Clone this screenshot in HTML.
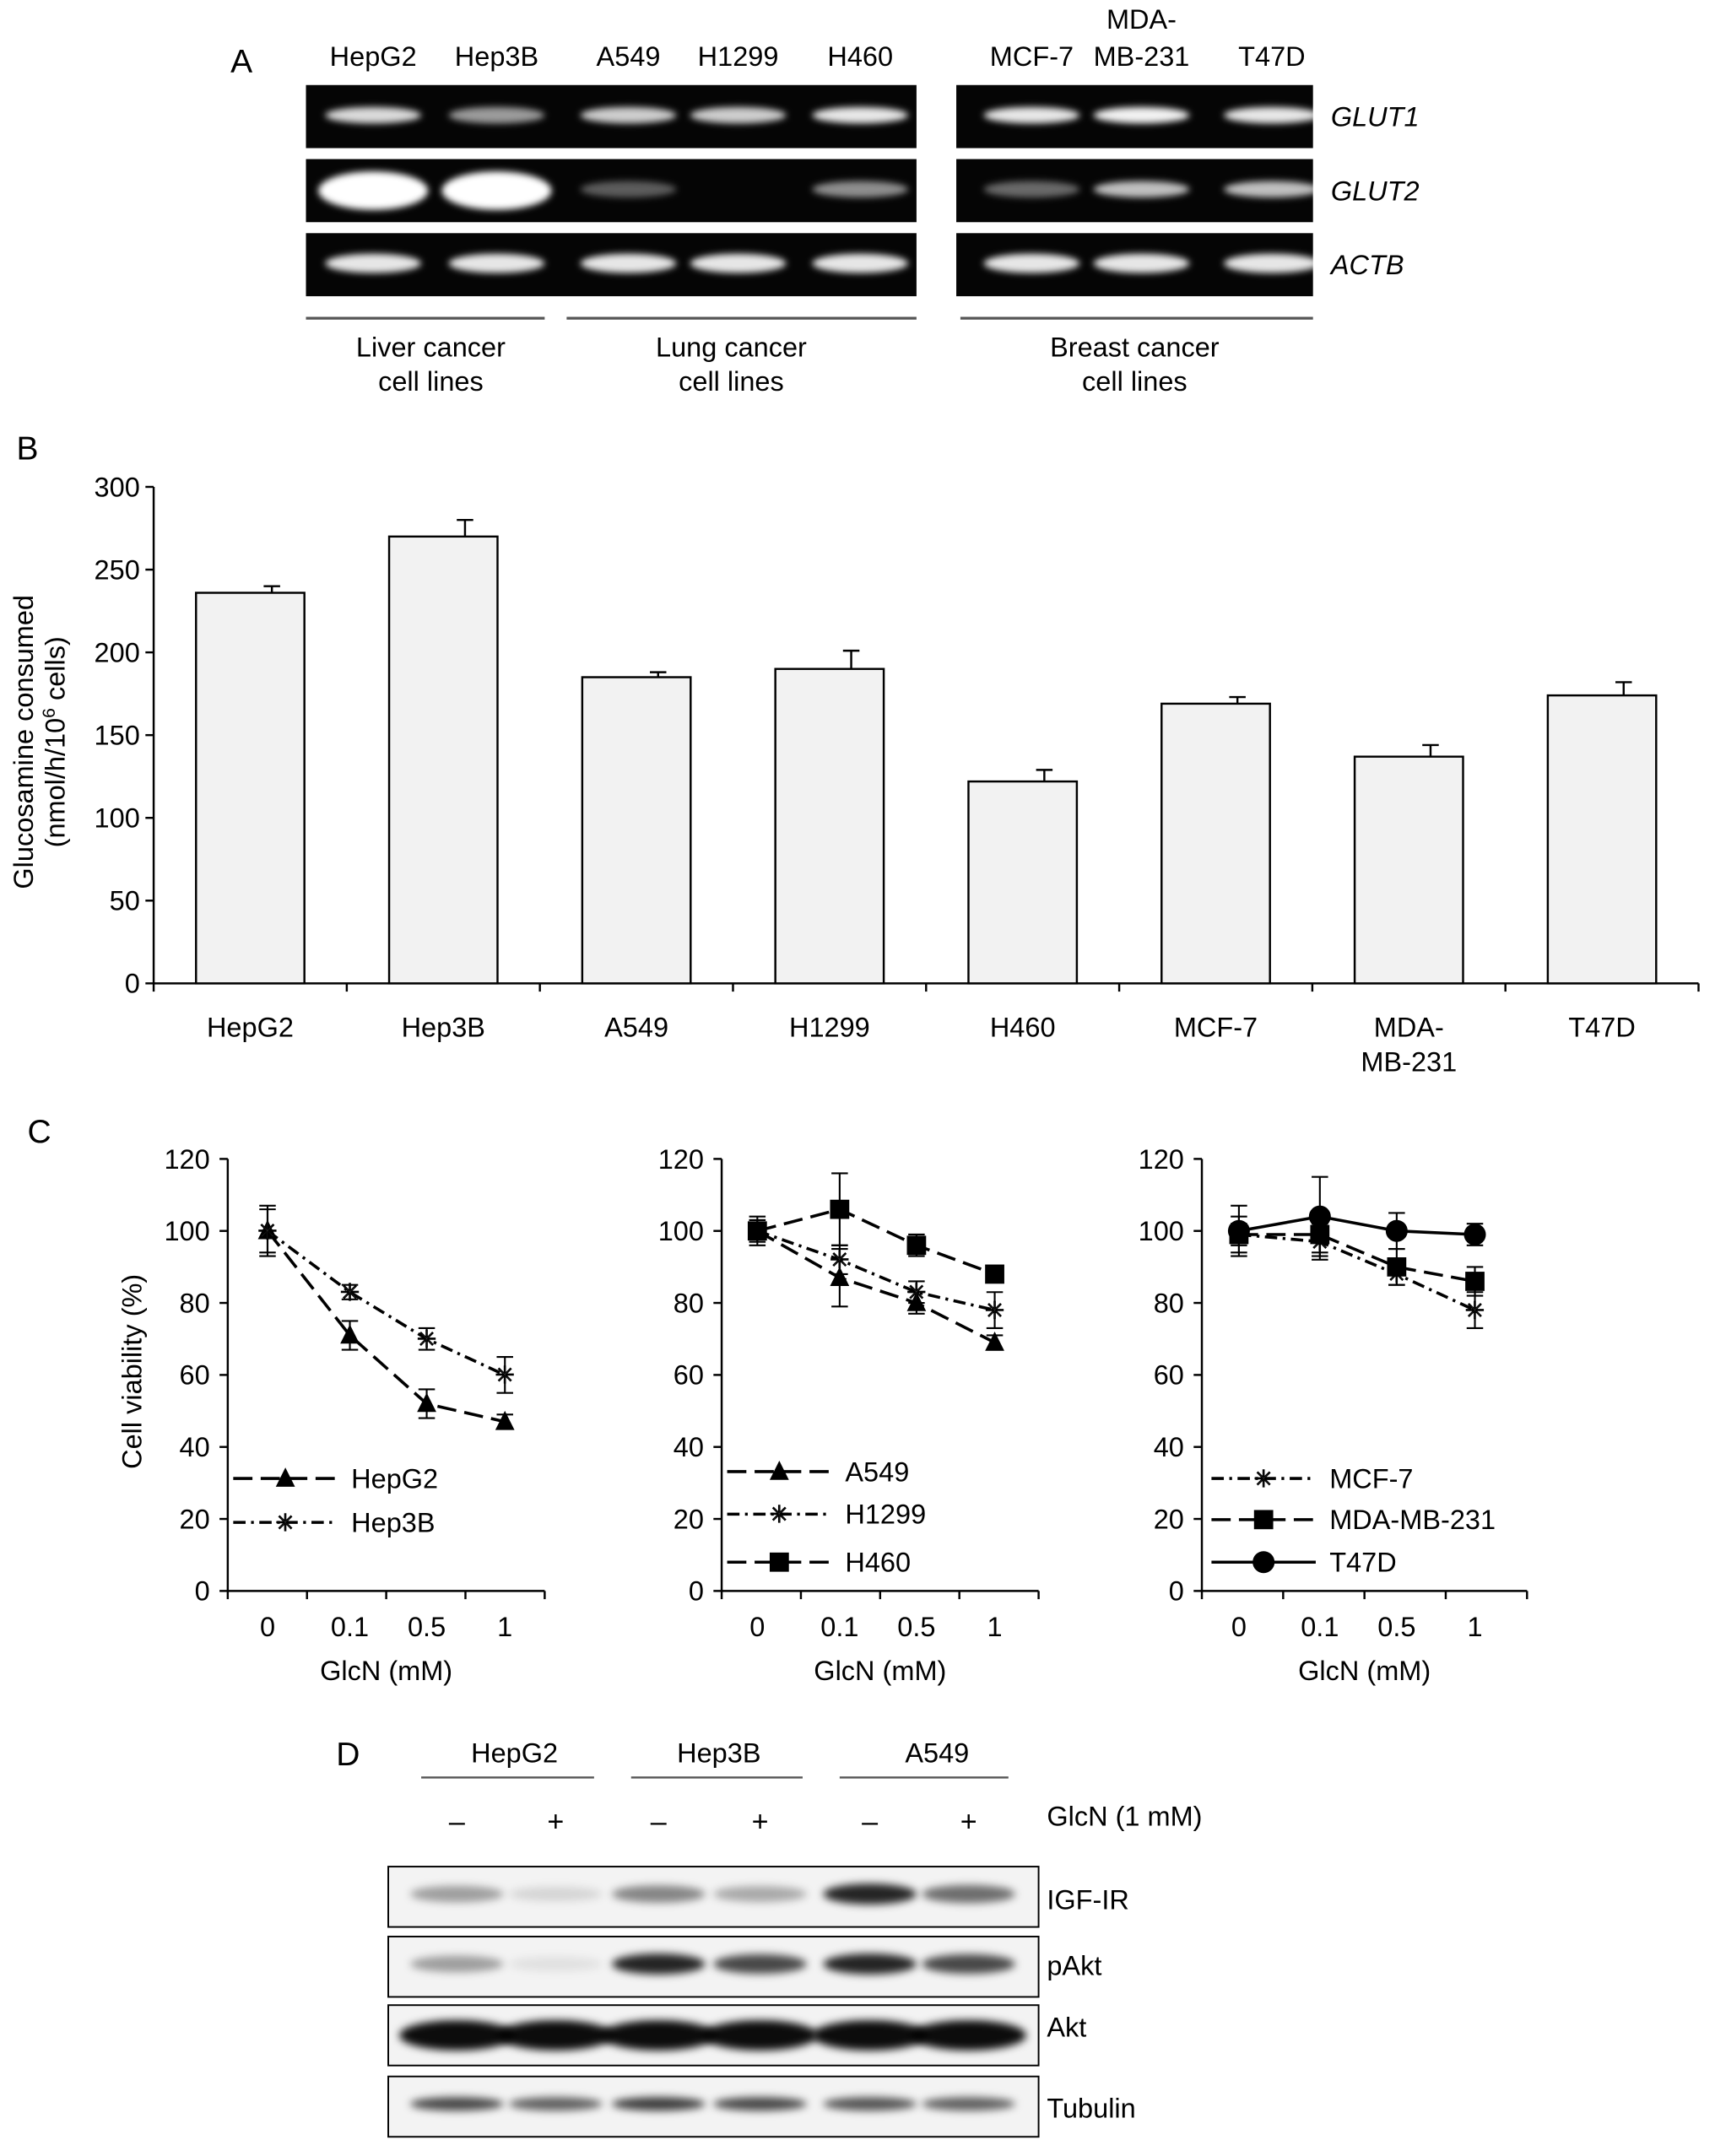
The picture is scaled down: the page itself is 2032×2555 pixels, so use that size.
<!DOCTYPE html>
<html><head><meta charset="utf-8"><style>
html,body{margin:0;padding:0;background:#fff;}
svg{display:block;font-family:"Liberation Sans",Arial,sans-serif;}
</style></head><body>
<svg id="fig" width="2032" height="2555" viewBox="0 0 1250 1572" preserveAspectRatio="none" xmlns="http://www.w3.org/2000/svg">
<defs>
<filter id="blur" x="-50%" y="-100%" width="200%" height="300%"><feGaussianBlur stdDeviation="3"/></filter>
<filter id="blur2" x="-50%" y="-100%" width="200%" height="300%"><feGaussianBlur stdDeviation="2.5"/></filter>
</defs>
<g id="panelA"></g>
<g id="panelB"></g>
<g id="panelC"></g>
<g id="panelD"></g>
</svg>
<script>
// ---------- Data ----------
const gelLanes = ["HepG2","Hep3B","A549","H1299","H460","MCF-7","MDA-MB-231","T47D"];
const gelGenes = ["GLUT1","GLUT2","ACTB"];
const glut1 = [0.85,0.6,0.8,0.8,0.9,0.9,0.95,0.9];
const glut2 = [1,1,0.35,0,0.55,0.4,0.75,0.75];
const actb = [0.9,0.9,0.9,0.9,0.9,0.9,0.9,0.9];

const barCats = ["HepG2","Hep3B","A549","H1299","H460","MCF-7","MDA-\nMB-231","T47D"];
const barVals = [236,270,185,190,122,169,137,174];
const barErr = [4,10,3,11,7,4,7,8];
const barTicks = [0,50,100,150,200,250,300];

const doseLabels = ["0","0.1","0.5","1"];
const cTicks = [0,20,40,60,80,100,120];
const hepg2 = [100,71,52,47], hepg2Err=[7,4,4,2];
const hep3b = [100,83,70,60], hep3bErr=[6,2,3,5];
const a549 = [100,87,80,69], a549Err=[4,8,3,2];
const h1299 = [100,92,83,78], h1299Err=[3,4,3,5];
const h460 = [100,106,96,88], h460Err=[3,10,3,2];
const mcf7 = [99,97,88,78], mcf7Err=[3,5,3,5];
const mda = [99,99,90,86], mdaErr=[5,5,5,4];
const t47d = [100,104,100,99], t47dErr=[7,11,5,3];

const wbTargets = ["IGF-IR","pAkt","Akt","Tubulin"];
const igf = [0.35,0.12,0.45,0.3,0.85,0.55];
const pakt = [0.35,0.08,0.85,0.7,0.85,0.7];
const akt = [0.95,0.95,0.95,0.95,0.95,0.95];
const tub = [0.7,0.6,0.75,0.7,0.65,0.6];

const FS=20;
const NS="http://www.w3.org/2000/svg";
function el(parent,tag,attrs,text){const e=document.createElementNS(NS,tag);for(const k in attrs)e.setAttribute(k,attrs[k]);if(text!==undefined)e.textContent=text;parent.appendChild(e);return e;}

// ---------- Panel A ----------
const A=document.getElementById('panelA');
let t=el(A,'text',{x:168,y:53,'font-size':24},"A");


const laneX=[272,362,458,538,627,752,832,927];
gelLanes.forEach((n,i)=>{
  if(n==="MDA-MB-231"){
    let a=el(A,'text',{x:laneX[i],y:21,'font-size':FS,'text-anchor':'middle'},"MDA-");
    
    
    let b=el(A,'text',{x:laneX[i],y:48,'font-size':FS,'text-anchor':'middle'},"MB-231");
    
    
  } else {
    let a=el(A,'text',{x:laneX[i],y:48,'font-size':FS,'text-anchor':'middle'},n);
    
    
  }
});
const rowsY=[62,116,170];
const gelData=[glut1,glut2,actb];
rowsY.forEach((y,r)=>{
  [[223,668],[697,957]].forEach(([x0,x1])=>{
    let b=el(A,'rect',{x:x0,y:y,width:x1-x0,height:46,fill:'#050505'});
    
    
  });
  gelData[r].forEach((v,i)=>{
    if(v<=0)return;
    const big=(r===1&&v>=1);
    let e=el(A,'ellipse',{cx:laneX[i],cy:y+(big?23:22),rx:big?40:35,ry:big?14:(r===2?7:6),fill:'#fff','fill-opacity':v,filter:'url(#blur2)'});
    
    
  });
  let l=el(A,'text',{x:970,y:y+30,'font-size':FS,'font-style':'italic'},gelGenes[r]);
  
  
});
[[223,397,314,"Liver cancer"],[413,668,533,"Lung cancer"],[700,957,827,"Breast cancer"]].forEach(g=>{
  let l=el(A,'line',{x1:g[0],x2:g[1],y1:232,y2:232,stroke:'#555','stroke-width':2});
  
  
  let a=el(A,'text',{x:g[2],y:260,'font-size':FS,'text-anchor':'middle'},g[3]);
  
  
  let b=el(A,'text',{x:g[2],y:285,'font-size':FS,'text-anchor':'middle'},"cell lines");
  
  
});

// ---------- Panel B ----------
const B=document.getElementById('panelB');
const bx0=112,bx1=1238,by0=717,by1=355;
const yB=v=>by0-(v/300)*(by0-by1);
const step=(bx1-bx0)/barCats.length;
const xB=i=>bx0+step*(i+0.5);
t=el(B,'text',{x:12,y:335,'font-size':24},"B");


let ax=el(B,'line',{x1:bx0,x2:bx0,y1:by1,y2:by0,stroke:'#000','stroke-width':1.5});


ax=el(B,'line',{x1:bx0,x2:bx1,y1:by0,y2:by0,stroke:'#000','stroke-width':1.5});


barTicks.forEach(v=>{
  let tk=el(B,'line',{x1:bx0-6,x2:bx0,y1:yB(v),y2:yB(v),stroke:'#000','stroke-width':1.5});
  
  
  let tl=el(B,'text',{x:bx0-10,y:yB(v)+7,'font-size':FS,'text-anchor':'end'},v);
  
  
});
for(let i=0;i<=barCats.length;i++){
  let tk=el(B,'line',{x1:bx0+step*i,x2:bx0+step*i,y1:by0,y2:by0+6,stroke:'#000','stroke-width':1.5});
  
  
}
barCats.forEach((c,i)=>{
  const cx=xB(i),w=79;
  let eb=el(B,'line',{x1:cx+w*0.2,x2:cx+w*0.2,y1:yB(barVals[i]),y2:yB(barVals[i]+barErr[i]),stroke:'#000','stroke-width':1.5});
  
  
  let ec=el(B,'line',{x1:cx+w*0.2-6,x2:cx+w*0.2+6,y1:yB(barVals[i]+barErr[i]),y2:yB(barVals[i]+barErr[i]),stroke:'#000','stroke-width':1.5});
  
  
  let r=el(B,'rect',{x:cx-w/2,y:yB(barVals[i]),width:w,height:by0-yB(barVals[i]),fill:'#f2f2f2',stroke:'#000','stroke-width':1.5});
  
  
  c.split("\n").forEach((p,j)=>{
    let tl=el(B,'text',{x:cx,y:756+j*25,'font-size':FS,'text-anchor':'middle'},p);
    
    
  });
});
let yt=el(B,'text',{x:0,y:0,'font-size':FS,'text-anchor':'middle',transform:'translate(24,541) rotate(-90)'},"Glucosamine consumed");


yt=el(B,'text',{x:0,y:0,'font-size':FS,'text-anchor':'middle',transform:'translate(47,541) rotate(-90)'});


el(yt,'tspan',{},"(nmol/h/10");
el(yt,'tspan',{dy:-7,'font-size':13},"6");
el(yt,'tspan',{dy:7},"  cells)");

// ---------- Panel C ----------
const C=document.getElementById('panelC');
t=el(C,'text',{x:20,y:833,'font-size':24},"C");


const cy0=1160,cy1=845;
const yC=v=>cy0-(v/120)*(cy0-cy1);
const dash={dash:'14,6',dashdot:'9,4,2,4',solid:'none'};
function marker(g,type,x,y,s){
  let m;
  if(type==='tri') m=el(g,'polygon',{points:`${x},${y-8*s} ${x-7*s},${y+6*s} ${x+7*s},${y+6*s}`,fill:'#000'});
  else if(type==='star') m=el(g,'text',{x:x,y:y+6,'font-size':17*s,'text-anchor':'middle',fill:'#fff',stroke:'#000','stroke-width':0.8},"✳");
  else if(type==='sq') m=el(g,'rect',{x:x-7*s,y:y-7*s,width:14*s,height:14*s,fill:'#000'});
  else m=el(g,'circle',{cx:x,cy:y,r:8*s,fill:'#000'});
  
  
}
const charts=[
 {axis:166,end:397,xs:[195,255,311,368],series:[
   {n:'HepG2',v:hepg2,e:hepg2Err,m:'tri',d:'dash',ly:1078},
   {n:'Hep3B',v:hep3b,e:hep3bErr,m:'star',d:'dashdot',ly:1110}],lx:170,title:true},
 {axis:526,end:757,xs:[552,612,668,725],series:[
   {n:'A549',v:a549,e:a549Err,m:'tri',d:'dash',ly:1073},
   {n:'H1299',v:h1299,e:h1299Err,m:'star',d:'dashdot',ly:1104},
   {n:'H460',v:h460,e:h460Err,m:'sq',d:'dash',ly:1139}],lx:530},
 {axis:876,end:1113,xs:[903,962,1018,1075],series:[
   {n:'MCF-7',v:mcf7,e:mcf7Err,m:'star',d:'dashdot',ly:1078},
   {n:'MDA-MB-231',v:mda,e:mdaErr,m:'sq',d:'dash',ly:1108},
   {n:'T47D',v:t47d,e:t47dErr,m:'circ',d:'solid',ly:1139}],lx:883}
];
charts.forEach((ch,ci)=>{
  const g=el(C,'g',{});
  
  
  let a=el(g,'line',{x1:ch.axis,x2:ch.axis,y1:cy1,y2:cy0,stroke:'#000','stroke-width':1.5});
  
  
  a=el(g,'line',{x1:ch.axis,x2:ch.end,y1:cy0,y2:cy0,stroke:'#000','stroke-width':1.5});
  
  
  cTicks.forEach(v=>{
    let tk=el(g,'line',{x1:ch.axis-6,x2:ch.axis,y1:yC(v),y2:yC(v),stroke:'#000','stroke-width':1.5});
    
    
    let tl=el(g,'text',{x:ch.axis-13,y:yC(v)+7,'font-size':FS,'text-anchor':'end'},v);
    
    
  });
  const tstep=(ch.end-ch.axis)/4;
  for(let i=0;i<=4;i++){
    let tk=el(g,'line',{x1:ch.axis+tstep*i,x2:ch.axis+tstep*i,y1:cy0,y2:cy0+6,stroke:'#000','stroke-width':1.5});
    
    
  }
  doseLabels.forEach((d,i)=>{
    let tl=el(g,'text',{x:ch.xs[i],y:1193,'font-size':FS,'text-anchor':'middle'},d);
    
    
  });
  let xt=el(g,'text',{x:(ch.axis+ch.end)/2,y:1225,'font-size':FS,'text-anchor':'middle'},"GlcN (mM)");
  
  
  if(ch.title){
    let y2=el(g,'text',{x:0,y:0,'font-size':FS,'text-anchor':'middle',transform:'translate(103,1000) rotate(-90)'},"Cell viability (%)");
    
    
  }
  ch.series.forEach(s=>{
    const sg=el(g,'g',{});
    
    
    const pts=s.v.map((v,i)=>ch.xs[i]+','+yC(v)).join(' ');
    let pl=el(sg,'polyline',{points:pts,fill:'none',stroke:'#000','stroke-width':2.2,'stroke-dasharray':dash[s.d]});
    
    
    s.v.forEach((v,i)=>{
      const x=ch.xs[i];
      let e=el(sg,'path',{d:`M${x},${yC(v-s.e[i])}V${yC(v+s.e[i])}M${x-6},${yC(v-s.e[i])}h12M${x-6},${yC(v+s.e[i])}h12`,stroke:'#000','stroke-width':1.3,fill:'none'});
      
      
      marker(sg,s.m,x,yC(v),1);
    });
    const lg=el(g,'g',{});
    
    
    let ll=el(lg,'line',{x1:ch.lx,x2:ch.lx+76,y1:s.ly,y2:s.ly,stroke:'#000','stroke-width':2.2,'stroke-dasharray':dash[s.d]});
    
    
    marker(lg,s.m,ch.lx+38,s.ly,1);
    let lt=el(lg,'text',{x:ch.lx+86,y:s.ly+7,'font-size':FS},s.n);
    
    
  });
});

// ---------- Panel D ----------
const D=document.getElementById('panelD');
t=el(D,'text',{x:245,y:1287,'font-size':24},"D");


[[307,433,375,"HepG2"],[460,585,524,"Hep3B"],[612,735,683,"A549"]].forEach(g=>{
  let a=el(D,'text',{x:g[2],y:1285,'font-size':FS,'text-anchor':'middle'},g[3]);
  
  
  let l=el(D,'line',{x1:g[0],x2:g[1],y1:1296,y2:1296,stroke:'#555','stroke-width':1.5});
  
  
});
const wbX=[333,405,480,554,634,706];
const signs=["–","+","–","+","–","+"];
signs.forEach((s,i)=>{
  let a=el(D,'text',{x:wbX[i],y:1335,'font-size':21,'text-anchor':'middle'},s);
  
  
});
t=el(D,'text',{x:763,y:1331,'font-size':FS},"GlcN (1 mM)");


const wbRows=[[1361,igf,1392],[1412,pakt,1440],[1462,akt,1485],[1514,tub,1544]];
wbRows.forEach((r,ri)=>{
  const y=r[0];
  let b=el(D,'rect',{x:283,y:y,width:474,height:44,fill:'#f3f3f3',stroke:'#000','stroke-width':1.2});
  
  
  r[1].forEach((v,i)=>{
    let e=el(D,'ellipse',{cx:wbX[i],cy:y+(ri===2?22:20),rx:ri===2?42:34,ry:ri===2?11:(ri===3?5:5+v*3),fill:'#000','fill-opacity':v,filter:'url(#blur)'});
    
    
  });
  let l=el(D,'text',{x:763,y:r[2],'font-size':FS},wbTargets[ri]);
  
  
});
</script>
</body></html>
